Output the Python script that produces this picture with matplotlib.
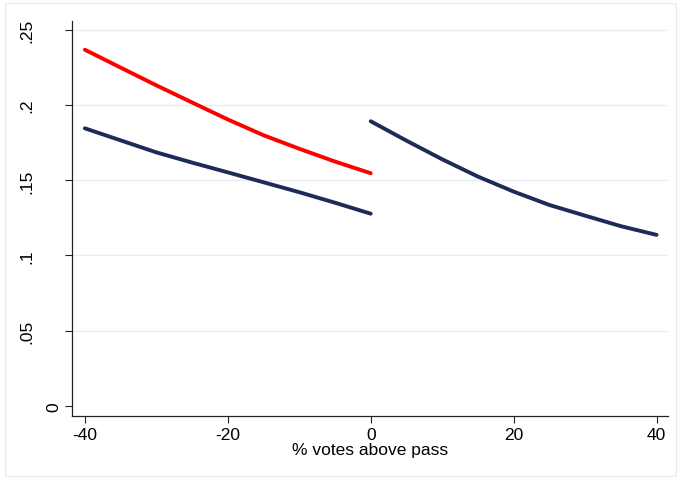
import matplotlib
matplotlib.use("Agg")
import matplotlib.pyplot as plt
from matplotlib.patches import Rectangle
from matplotlib.transforms import blended_transform_factory

# Fitted shares by vote margin (% votes above pass)
x_left = [-40, -35, -30, -25, -20, -15, -10, -5, 0]
red_left = [0.2369, 0.2250, 0.2132, 0.2018, 0.1905, 0.1800, 0.1710, 0.1625, 0.1547]
navy_left = [0.1846, 0.1766, 0.1686, 0.1618, 0.1553, 0.1487, 0.1421, 0.1351, 0.1278]

x_right = [0, 5, 10, 15, 20, 25, 30, 35, 40]
navy_right = [0.1893, 0.1764, 0.1640, 0.1525, 0.1425, 0.1336, 0.1265, 0.1195, 0.1137]

xticks = [-40, -20, 0, 20, 40]
yticks = [0, 0.05, 0.10, 0.15, 0.20, 0.25]
ytick_labels = ["0", ".05", ".1", ".15", ".2", ".25"]
xlabel = "% votes above pass"

NAVY = "#1c2b57"
RED = "#ff0000"
GRID = "#e6eef0"
FS = 12.5

plt.rcParams["font.family"] = ["Liberation Sans", "DejaVu Sans"]

fig = plt.figure(figsize=(6.81, 4.81), dpi=100)
fig.patches.append(Rectangle((5 / 681, 4 / 481), 671 / 681, 473 / 481,
                             transform=fig.transFigure, fill=False,
                             edgecolor="#e4ecee", linewidth=0.8))

ax = fig.add_axes([72 / 681, (481 - 416.7) / 481, (668 - 72) / 681, (416.7 - 21.7) / 481])

for yv in yticks[1:]:
    ax.axhline(yv, color=GRID, linewidth=1.0, zorder=0)

ax.plot(x_left, red_left, color=RED, linewidth=2.8, solid_capstyle="round", zorder=3)
ax.plot(x_left, navy_left, color=NAVY, linewidth=2.8, solid_capstyle="round", zorder=3)
ax.plot(x_right, navy_right, color=NAVY, linewidth=2.8, solid_capstyle="round", zorder=3)

ax.set_xlim(-41.8, 41.6)
ax.set_ylim(-0.0066, 0.2562)

ax.set_xticks(xticks)
ax.set_xticklabels([str(t) for t in xticks], fontsize=FS)
ax.set_yticks(yticks)
# the zero label is placed separately, closer to its tick
ax.set_yticklabels([""] + ytick_labels[1:], fontsize=FS, rotation=90, va="center")
zero_tf = blended_transform_factory(fig.transFigure, ax.transData)
ax.text(53.5 / 681, yticks[0], ytick_labels[0], transform=zero_tf, fontsize=FS,
        rotation=90, ha="center", va="center")

ax.tick_params(axis="both", direction="out", length=5, width=0.8, color="#222222")
ax.tick_params(axis="x", pad=3)
ax.tick_params(axis="y", pad=22)

for side in ("top", "right"):
    ax.spines[side].set_visible(False)
for side in ("left", "bottom"):
    ax.spines[side].set_color("#222222")
    ax.spines[side].set_linewidth(0.9)

ax.set_xlabel(xlabel, fontsize=FS, labelpad=0)

fig.savefig("out.png", dpi=100, facecolor="white")
